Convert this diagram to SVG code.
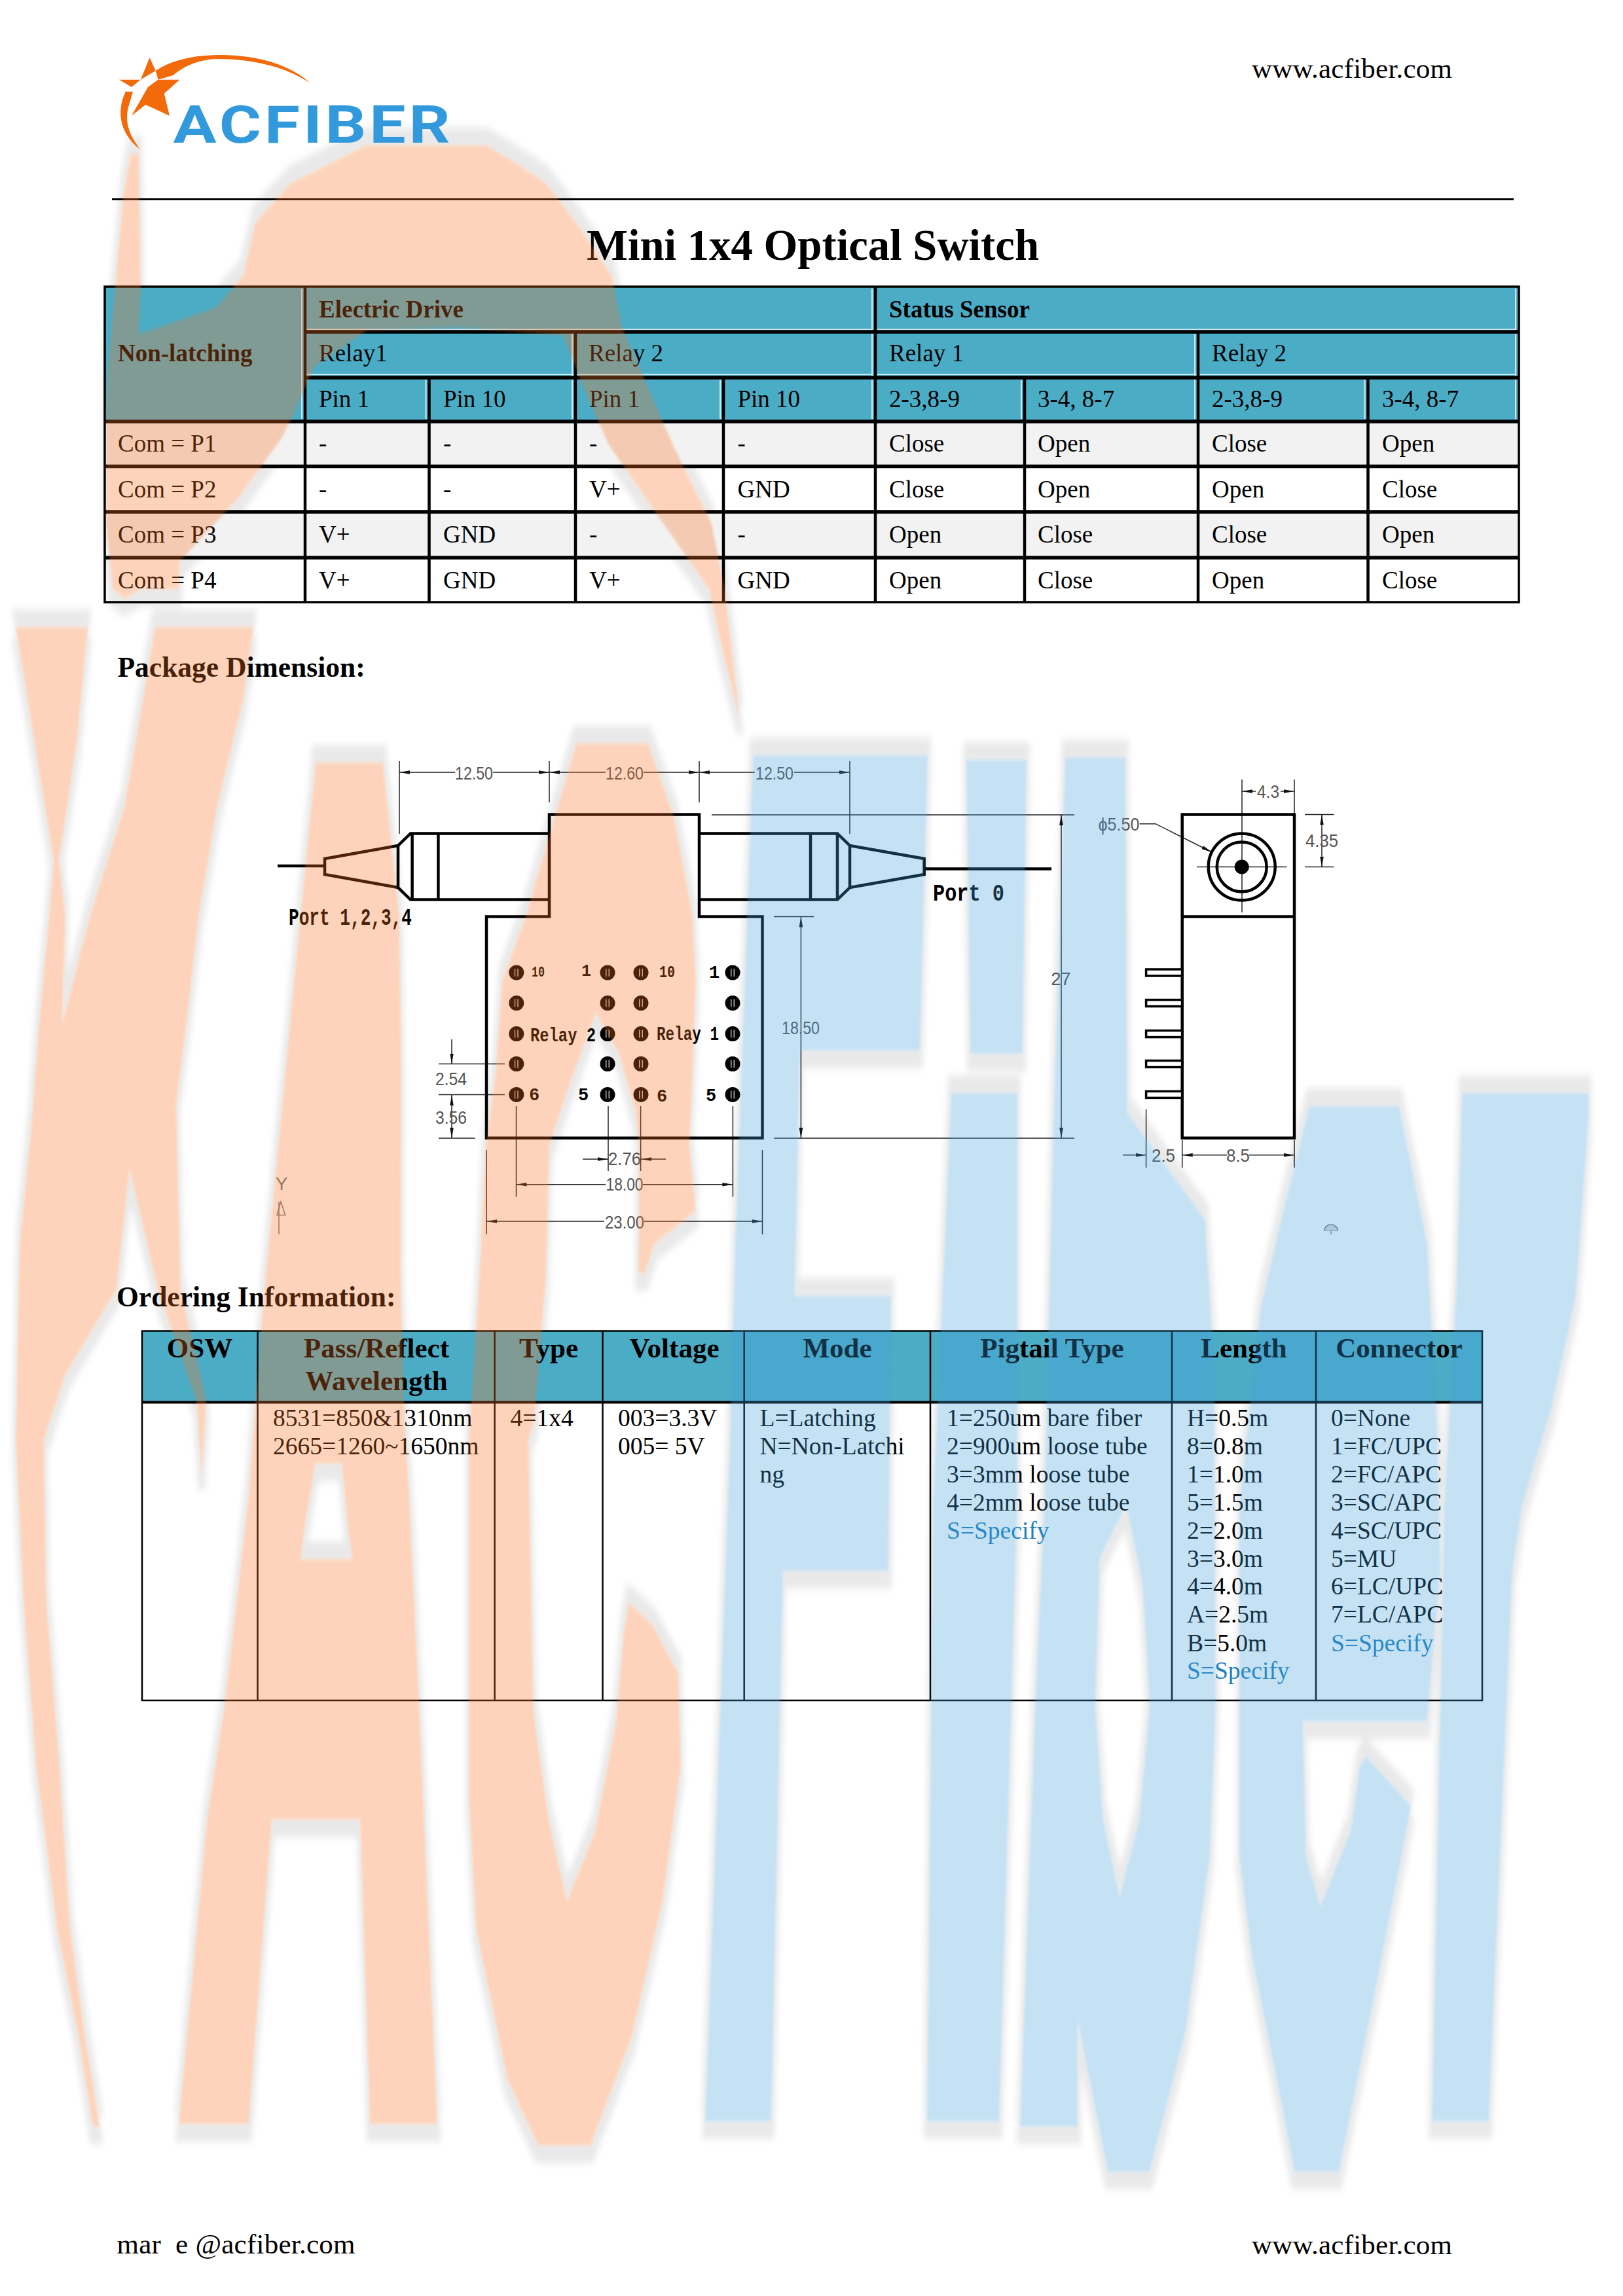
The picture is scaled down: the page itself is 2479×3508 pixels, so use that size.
<svg xmlns="http://www.w3.org/2000/svg" xmlns:xlink="http://www.w3.org/1999/xlink" width="2479" height="3508" viewBox="0 0 2479 3508">
<style>
text{font-family:"Liberation Serif","Times New Roman",serif;fill:#000}
.b{font-weight:700}
.t1{font-size:37px}
.h2{font-size:43px;font-weight:700;text-anchor:middle}
.sub{font-size:43.5px;font-weight:700}
.t2{font-size:37.5px}
.spec{fill:#1F7FBF}
.url{font-size:43px}
.grid{stroke:#000;fill:none}
.hl{stroke:#CFE7EE;stroke-width:2;fill:none}
.dim{stroke:#222;stroke-width:1.5;fill:none}
.ad{marker-end:url(#arr)}
.as{marker-start:url(#arr)}
.thick{stroke:#000;stroke-width:4.5;fill:none;stroke-linejoin:miter}
.dt{font-family:"Liberation Sans",Arial,sans-serif;font-size:28px;fill:#555;text-anchor:middle}
.pl{font-family:"Liberation Mono","Courier New",monospace;font-weight:700;fill:#000}
</style>
<defs>
<marker id="arr" markerUnits="userSpaceOnUse" markerWidth="16" markerHeight="8" refX="16" refY="4" orient="auto-start-reverse"><path d="M0 1.2L16 4L0 6.8Z" fill="#111"/></marker>
<g id="pin"><circle r="11.5" fill="#000"/><path d="M-2.2-6V6M2.2-6V6" stroke="#fff" stroke-width="1.1" fill="none"/></g>
<filter id="soft" filterUnits="userSpaceOnUse" x="0" y="0" width="2479" height="3508"><feGaussianBlur stdDeviation="4 6"/></filter>
<filter id="edge" filterUnits="userSpaceOnUse" x="0" y="0" width="2479" height="3508"><feGaussianBlur stdDeviation="1.6 2.5"/></filter>
<g id="wmO">
<path d="M559 222L743 222L790 250L834 280L880 340L934 420L950 500L1028 680L1087 800L1107 900L1130 1100L1105 1000L1083 900L1012 798L930 680L890 590L860 512L700 500L560 505L480 560L445 640L431 668L365 760L300 830L274 859L273 900L240 900L215 900L190 915L172 900L162 800L162 640L165 560L176 437L188 300L200 235L212 235L215 437L212 510L230 505L330 470L372 420L390 340L444 280Z"/>
<path d="M24 958L134 958L118 1130L90 1315L100 1400L95 1563L138 1397L190 1232L237 958L387 958L372 1066L332 1232L304 1397L285 1563L269 1688L276 1970L315 2140L308 2255L300 2140L241 1970L198 1787L178 1970L100 2100L67 2200L71 2449L91 2697L107 2946L130 3112L152 3249L142 3249L120 3112L87 2946L55 2697L36 2449L24 2200L30 1900L47 1730L60 1560L75 1400L82 1315L60 1180Z"/>
<path fill-rule="evenodd" d="M482 1165L585 1165L610 1400L613 1650L612 1950L618 2173L625 2283L640 2598L668 3245L565 3245L550 2780L415 2780L380 3245L273 3245L316 2780L344 2598L380 2283L403 1978L427 1729L459 1397ZM482 2236L522 2236L530 2324L538 2382L459 2382L467 2324Z"/>
<path d="M880 1136L990 1136L1030 1250L1058 1400L1063 1500L1058 1640L1053 1750L1063 1850L1000 1900L985 1945L975 1945L976 1750L971 1700L946 1610L910 1548L869 1660L839 1750L834 1950L816 2173L807 2200L815 2615L838 2780L866 2905L909 2797L941 2631L953 2490L961 2449L996 2482L1036 2556L1040 2697L1012 2905L965 3112L902 3278L822 3278L775 3178L727 2946L716 2739L716 2200L718 2173L732 1950L742 1750L757 1640L767 1500L803 1400Z"/>
</g>
<g id="wmB">
<path d="M1150 1154L1417 1154L1405 1605L1222 1605L1214 1980L1361 1980L1357 2400L1196 2400L1178 3241L1077 3241L1115 2200L1123 1900Z"/>
<path d="M1476 1161L1568 1161L1562 1610L1482 1610Z"/>
<path d="M1453 1670L1554 1670L1554 2300L1526 3241L1416 3241L1425 2300Z"/>
<path fill-rule="evenodd" d="M1627 1157L1719 1157L1722 1700L1841 1864L1855 2100L1857 2606L1848 2836L1811 3103L1756 3318L1692 3318L1646 3088L1646 3249L1558 3249L1581 2606L1595 2300L1609 1712ZM1673 2606L1680 2380L1720 2300L1745 2420L1756 2606L1740 2780L1710 2897L1685 2780Z"/>
<path d="M2000 1690L2137 1690L2180 1900L2196 2200L2200 2400L2180 2630L1990 2630L1995 2836L2017 2912L2063 2797L2077 2698L2086 2683L2155 2759L2141 2836L2096 3065L2045 3318L1977 3318L1958 3218L1912 2989L1893 2836L1893 2300L1925 2000L1960 1850Z"/>
<path d="M2233 1670L2426 1670L2426 1712L2407 1980L2370 2150L2325 2300L2310 2400L2274 3241L2187 3241L2206 2300L2224 1980Z"/>
</g>
<g id="wmAll"><use href="#wmO"/><use href="#wmB"/></g>
</defs>
<rect width="2479" height="3508" fill="#fff"/>

<g id="watermark-shadow">
<g filter="url(#soft)" fill="#E9E9E9" stroke="#E9E9E9" stroke-width="10">
<use href="#wmAll" transform="translate(0,-22)"/>
<use href="#wmAll" transform="translate(0,22)"/>
</g>
<use href="#wmAll" fill="#fff" filter="url(#edge)"/>
</g>

<g id="logo">
<path fill="#F26A0A" d="M228.500 88L237.700 108L214.800 121.700L201 133L181.900 121.700L214.800 121.700Z"/>
<path fill="#F26A0A" d="M241.500 121.700L274.400 121.700L250.700 143L259 177L222.400 160L201 176.700L226 133Z"/>
<path fill="#F26A0A" d="M237.700 108C262 92 295 84 337 84C395 84 445 100 473 126.700C445 108 400 90 329.500 90C300 92 280 102 264.500 115L241.500 121.700Z"/>
<path fill="#F26A0A" d="M191.800 140C180 165 178 200 214.800 229C200 210 190 190 195.600 165L203 140Z"/>
<text x="264.500" y="218" font-size="80" font-weight="700" letter-spacing="4" textLength="428" lengthAdjust="spacingAndGlyphs" style="font-family:Roboto,'Liberation Sans',sans-serif;fill:#3399DD">ACFIBER</text>
</g>

<g id="page-header">
<text class="url" x="1912" y="119" textLength="306">www.acfiber.com</text>
<line x1="171" y1="304.500" x2="2312" y2="304.500" stroke="#000" stroke-width="3"/>
<text class="b" x="896" y="397" font-size="66.700">Mini 1x4 Optical Switch</text>
</g>

<g id="table-switching">
<rect x="160" y="438" width="2160" height="205" fill="#4BACC6"/>
<rect x="160" y="643" width="2160" height="69.500" fill="#F2F2F2"/>
<rect x="160" y="782" width="2160" height="70" fill="#F2F2F2"/>
<g class="hl">
<path d="M461 441V640M650.500 580V640M874 510V640M1100 580V640M1332 441V640M1560 580V640M1825 510V640M2084.500 580V640M2315 441V640M466 503.500H1332M1340 503.500H2315M466 572H1332M1340 572H2315"/>
</g>
<g class="grid" stroke-width="5.500">
<path d="M466 507H2320M466 577H2320M160 644H2320M160 712.500H2320M160 782H2320M160 852H2320"/>
</g>
<g class="grid" stroke-width="4.500">
<path d="M466 438V920M1337 438V920M879 507V920M655.500 577V920M1105 577V920M1565 577V920M1830 507V920M2089.500 577V920"/>
</g>
<rect x="160" y="438" width="2160" height="482" fill="none" stroke="#000" stroke-width="3.500"/>
<g class="t1">
<text class="b" x="180" y="552">Non-latching</text>
<text class="b" x="487" y="485">Electric Drive</text>
<text class="b" x="1358" y="485">Status Sensor</text>
<text x="487" y="552">Relay1</text><text x="899" y="552">Relay 2</text><text x="1358" y="552">Relay 1</text><text x="1851" y="552">Relay 2</text>
<text x="487" y="622">Pin 1</text><text x="677" y="622">Pin 10</text><text x="900" y="622">Pin 1</text><text x="1126.500" y="622">Pin 10</text>
<text x="1358" y="622">2-3,8-9</text><text x="1585" y="622">3-4, 8-7</text><text x="1851" y="622">2-3,8-9</text><text x="2111" y="622">3-4, 8-7</text>
<text x="180" y="690">Com = P1</text><text x="487" y="690">-</text><text x="677" y="690">-</text><text x="900" y="690">-</text><text x="1126.500" y="690">-</text>
<text x="1358" y="690">Close</text><text x="1585" y="690">Open</text><text x="1851" y="690">Close</text><text x="2111" y="690">Open</text>
<text x="180" y="759.500">Com = P2</text><text x="487" y="759.500">-</text><text x="677" y="759.500">-</text><text x="900" y="759.500">V+</text><text x="1126.500" y="759.500">GND</text>
<text x="1358" y="759.500">Close</text><text x="1585" y="759.500">Open</text><text x="1851" y="759.500">Open</text><text x="2111" y="759.500">Close</text>
<text x="180" y="829">Com = P3</text><text x="487" y="829">V+</text><text x="677" y="829">GND</text><text x="900" y="829">-</text><text x="1126.500" y="829">-</text>
<text x="1358" y="829">Open</text><text x="1585" y="829">Close</text><text x="1851" y="829">Close</text><text x="2111" y="829">Open</text>
<text x="180" y="899">Com = P4</text><text x="487" y="899">V+</text><text x="677" y="899">GND</text><text x="900" y="899">V+</text><text x="1126.500" y="899">GND</text>
<text x="1358" y="899">Open</text><text x="1585" y="899">Close</text><text x="1851" y="899">Open</text><text x="2111" y="899">Close</text>
</g>
</g>

<text class="sub" x="179.500" y="1034">Package Dimension:</text>

<g id="dimension-lines">
<g class="dim">
<path d="M610 1163V1274M839 1163V1226M1068 1163V1226M1298 1163V1274"/>
<path class="as" d="M610 1180H695"/><path class="ad" d="M753 1180H839"/>
<path class="as" d="M839 1180H925"/><path class="ad" d="M983 1180H1068"/>
<path class="as" d="M1068 1180H1153"/><path class="ad" d="M1213 1180H1298"/>
<path d="M1087 1245H1641M1182 1739H1641M1182 1400.500H1243"/>
<path class="as ad" d="M1223.400 1400.500V1739"/>
<path class="as ad" d="M1621 1245V1739"/>
<path d="M670 1625.500H771M670 1672.400H771M670 1739H725.500"/>
<path class="ad" d="M690 1588V1625.500"/>
<path class="as ad" d="M690 1673V1739"/>
<path d="M788.500 1690V1828.600M929 1690V1789M978.600 1690V1789M1119.400 1690V1828.600M743 1757V1886M1164.500 1757V1886"/>
<path class="ad" d="M890 1771H929"/><path class="ad" d="M1017 1771H979"/>
<path class="as" d="M788.500 1809.700H925"/><path class="ad" d="M982 1809.700H1119.400"/>
<path class="as" d="M743 1866H923"/><path class="ad" d="M984 1866H1164.500"/>
<path d="M1750.600 1695V1784M1805.700 1742V1784M1977 1742V1784M1897 1191V1394M1828 1324.500H1965.600M1977 1191V1244M1993 1244.400H2037.500M1993 1324.500H2037.500"/>
<path class="ad" d="M1715 1764.800H1750.600"/>
<path class="as" d="M1805.700 1764.800H1874"/><path class="ad" d="M1908 1764.800H1977"/>
<path class="as" d="M1897 1209H1918"/><path class="ad" d="M1956 1209H1977"/>
<path class="as ad" d="M2019 1244.400V1324.500"/>
<path class="ad" d="M1740.600 1258.700H1765L1851 1302"/>
</g>
<g stroke="#777" stroke-width="1.500" fill="none"><path d="M426 1836V1886"/><path d="M423 1856.600H435.700L429 1836Z"/><path d="M2022 1880H2044M2033 1872V1886" stroke="#888"/><path d="M2023 1880A10 9 0 0 1 2043 1880" fill="#ddd"/></g>
</g>

<g id="front-view">
<path class="thick" d="M839 1244.400H1068V1400.500H1164.500V1738.800H743V1400.500H839Z"/>
<g class="thick">
<path d="M839 1273.500H627L608 1292V1356L627 1374.500H839M629.600 1273.500V1374.500M669.400 1273.500V1374.500"/>
<path d="M608 1292L496 1312V1336L608 1356M424 1323H496"/>
<path d="M1068 1273.500H1279L1298 1292V1356L1279 1374.500H1068M1238 1273.500V1374.500M1279 1273.500V1374.500"/>
<path d="M1298 1292L1411.600 1312V1336L1298 1356M1411.600 1327.500H1606"/>
</g>
<g>
<use href="#pin" x="788.800" y="1486"/><use href="#pin" x="788.800" y="1532.600"/><use href="#pin" x="788.800" y="1579.600"/><use href="#pin" x="788.800" y="1625.500"/><use href="#pin" x="788.800" y="1672.400"/>
<use href="#pin" x="928" y="1486"/><use href="#pin" x="928" y="1532.600"/><use href="#pin" x="928" y="1579.600"/><use href="#pin" x="928" y="1625.500"/><use href="#pin" x="928" y="1672.400"/>
<use href="#pin" x="979" y="1486"/><use href="#pin" x="979" y="1532.600"/><use href="#pin" x="979" y="1579.600"/><use href="#pin" x="979" y="1625.500"/><use href="#pin" x="979" y="1672.400"/>
<use href="#pin" x="1119" y="1486"/><use href="#pin" x="1119" y="1532.600"/><use href="#pin" x="1119" y="1579.600"/><use href="#pin" x="1119" y="1625.500"/><use href="#pin" x="1119" y="1672.400"/>
</g>
<g>
<text class="pl" x="812" y="1492" font-size="22" textLength="20" lengthAdjust="spacingAndGlyphs">10</text><text class="pl" x="888" y="1491" font-size="25">1</text><text class="pl" x="1007" y="1493" font-size="26" textLength="24" lengthAdjust="spacingAndGlyphs">10</text><text class="pl" x="1083" y="1494" font-size="27">1</text>
<text class="pl" x="808" y="1681" font-size="27">6</text><text class="pl" x="883" y="1681" font-size="27">5</text><text class="pl" x="1003" y="1683" font-size="27">6</text><text class="pl" x="1078" y="1682" font-size="27">5</text>
<text class="pl" x="810" y="1591" font-size="30" textLength="100" lengthAdjust="spacingAndGlyphs">Relay 2</text>
<text class="pl" x="1003" y="1589" font-size="30" textLength="95" lengthAdjust="spacingAndGlyphs">Relay 1</text>
</g>
<text class="pl" x="441" y="1413" font-size="36" textLength="188" lengthAdjust="spacingAndGlyphs">Port 1,2,3,4</text>
<text class="pl" x="1425" y="1376" font-size="36" textLength="109" lengthAdjust="spacingAndGlyphs">Port 0</text>
</g>

<g id="side-view">
<path class="thick" d="M1805.700 1244.400H1977V1738.800H1805.700ZM1805.700 1400.500H1977"/>
<circle cx="1896.700" cy="1324.500" r="51" class="thick"/>
<circle cx="1896.700" cy="1324.500" r="38" class="thick"/>
<circle cx="1896.700" cy="1324.500" r="11" fill="#000"/>
<g fill="#fff" stroke="#000" stroke-width="3.500">
<rect x="1750.600" y="1481" width="55" height="10"/><rect x="1750.600" y="1527.600" width="55" height="10"/><rect x="1750.600" y="1574.600" width="55" height="10"/><rect x="1750.600" y="1620.500" width="55" height="10"/><rect x="1750.600" y="1667.400" width="55" height="10"/>
</g>
</g>

<g id="dimension-labels">
<text class="dt" x="724" y="1191" textLength="58" lengthAdjust="spacingAndGlyphs">12.50</text>
<text class="dt" x="954" y="1191" textLength="58" lengthAdjust="spacingAndGlyphs">12.60</text>
<text class="dt" x="1183" y="1191" textLength="58" lengthAdjust="spacingAndGlyphs">12.50</text>
<text class="dt" x="1223" y="1580" textLength="58" lengthAdjust="spacingAndGlyphs">18.50</text>
<text class="dt" x="1620.500" y="1504.500" textLength="30" lengthAdjust="spacingAndGlyphs">27</text>
<text class="dt" x="689" y="1657.500" textLength="48" lengthAdjust="spacingAndGlyphs">2.54</text>
<text class="dt" x="689" y="1717" textLength="48" lengthAdjust="spacingAndGlyphs">3.56</text>
<text class="dt" x="954" y="1780" textLength="50" lengthAdjust="spacingAndGlyphs">2.76</text>
<text class="dt" x="954" y="1819" textLength="57" lengthAdjust="spacingAndGlyphs">18.00</text>
<text class="dt" x="954" y="1877" textLength="60" lengthAdjust="spacingAndGlyphs">23.00</text>
<text class="dt" x="1937" y="1219" textLength="34" lengthAdjust="spacingAndGlyphs">4.3</text>
<text class="dt" x="2019" y="1294" textLength="50" lengthAdjust="spacingAndGlyphs">4.35</text>
<text class="dt" x="1709" y="1269" textLength="63" lengthAdjust="spacingAndGlyphs">ϕ5.50</text>
<text class="dt" x="1777" y="1775" textLength="36" lengthAdjust="spacingAndGlyphs">2.5</text>
<text class="dt" x="1891" y="1775" textLength="36" lengthAdjust="spacingAndGlyphs">8.5</text>
<text class="dt" x="430" y="1818" font-size="22" style="fill:#777">Y</text>
</g>

<text class="sub" x="178" y="1996">Ordering Information:</text>

<g id="table-ordering">
<rect x="217" y="2033.500" width="2047" height="109" fill="#4BACC6"/>
<g class="grid" stroke-width="2.500">
<rect x="217" y="2033.500" width="2047" height="564.500"/>
<path d="M393.500 2033.500V2598M755.600 2033.500V2598M920.500 2033.500V2598M1136.700 2033.500V2598M1421 2033.500V2598M1790 2033.500V2598M2010 2033.500V2598"/>
</g>
<path d="M217 2142.400H2264" stroke="#000" stroke-width="4"/>
<text class="h2" x="305" y="2074">OSW</text>
<text class="h2" x="575" y="2074">Pass/Reflect</text>
<text class="h2" x="575" y="2124">Wavelength</text>
<text class="h2" x="838" y="2074">Type</text>
<text class="h2" x="1030" y="2074">Voltage</text>
<text class="h2" x="1279" y="2074">Mode</text>
<text class="h2" x="1607" y="2074">Pigtail Type</text>
<text class="h2" x="1900" y="2074">Length</text>
<text class="h2" x="2137" y="2074">Connector</text>
<g class="t2">
<text x="417" y="2178.500">8531=850&amp;1310nm</text><text x="417" y="2221.500">2665=1260~1650nm</text>
<text x="779.500" y="2178.500">4=1x4</text>
<text x="944" y="2178.500">003=3.3V</text><text x="944" y="2221.500">005= 5V</text>
<text x="1160.500" y="2178.500">L=Latching</text><text x="1160.500" y="2221.500">N=Non-Latchi</text><text x="1160.500" y="2264.500">ng</text>
<text x="1446" y="2178.500">1=250um bare fiber</text><text x="1446" y="2221.500">2=900um loose tube</text><text x="1446" y="2264.500">3=3mm loose tube</text><text x="1446" y="2307.500">4=2mm loose tube</text><text class="spec" x="1446" y="2350.500">S=Specify</text>
<text x="1813" y="2178.500">H=0.5m</text><text x="1813" y="2221.500">8=0.8m</text><text x="1813" y="2264.500">1=1.0m</text><text x="1813" y="2307.500">5=1.5m</text><text x="1813" y="2350.500">2=2.0m</text><text x="1813" y="2393.500">3=3.0m</text><text x="1813" y="2436">4=4.0m</text><text x="1813" y="2479">A=2.5m</text><text x="1813" y="2522.500">B=5.0m</text><text class="spec" x="1813" y="2565">S=Specify</text>
<text x="2033" y="2178.500">0=None</text><text x="2033" y="2221.500">1=FC/UPC</text><text x="2033" y="2264.500">2=FC/APC</text><text x="2033" y="2307.500">3=SC/APC</text><text x="2033" y="2350.500">4=SC/UPC</text><text x="2033" y="2393.500">5=MU</text><text x="2033" y="2436">6=LC/UPC</text><text x="2033" y="2479">7=LC/APC</text><text class="spec" x="2033" y="2522.500">S=Specify</text>
</g>
</g>

<g id="page-footer">
<text class="url" x="178.500" y="3443" textLength="364" xml:space="preserve">mar  e @acfiber.com</text>
<text class="url" x="1912" y="3444" textLength="306">www.acfiber.com</text>
</g>

<g id="watermark" opacity=".3" filter="url(#edge)">
<use href="#wmO" fill="#FA7521"/>
<use href="#wmB" fill="#42A0DE"/>
</g>
</svg>
